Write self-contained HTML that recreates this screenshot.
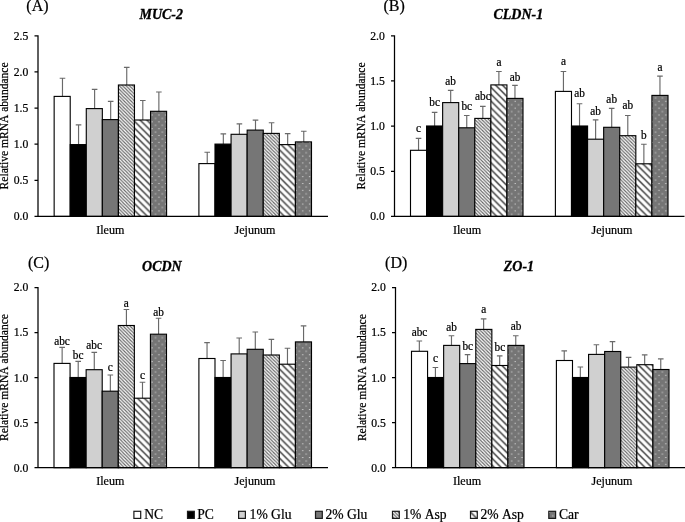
<!DOCTYPE html>
<html lang="en"><head><meta charset="utf-8"><title>Relative mRNA abundance</title>
<style>
html,body{margin:0;padding:0;background:#fff;}
body{width:685px;height:522px;overflow:hidden;}
svg{display:block;}
text{font-family:"Liberation Serif", serif;font-kerning:none;fill:#000;stroke:#000;stroke-width:0.22;}
.tk{font-size:11.7px;text-anchor:end;}
.lb{font-size:11.3px;text-anchor:middle;}
.ct{font-size:12.1px;text-anchor:middle;}
.yt{font-size:11.55px;text-anchor:middle;}
.tt{font-size:14px;font-weight:bold;font-style:italic;text-anchor:middle;stroke-width:0.3;}
.pn{font-size:16px;}
.lg{font-size:13.6px;}
.bar{stroke:#000;stroke-width:1.12;}
.err{stroke:#696969;stroke-width:1.15;fill:none;}
.ax{stroke:#000;stroke-width:1.25;fill:none;}
</style></head><body>
<svg width="685" height="522" viewBox="0 0 685 522" role="img" aria-label="Relative mRNA abundance of MUC-2, CLDN-1, OCDN and ZO-1 in ileum and jejunum">
<defs>
<pattern id="p1" width="3.425" height="3.425" patternUnits="userSpaceOnUse"><rect width="3.425" height="3.425" fill="#fff"/><path d="M-1,-0.16 L4.5,5.34 M1.5,-1.085 L5,2.415 M-1,3.265 L1,5.265" stroke="#666" stroke-width="1.15"/></pattern>
<pattern id="p2" width="6.85" height="6.85" patternUnits="userSpaceOnUse"><rect width="6.85" height="6.85" fill="#fff"/><path d="M-1,-0.45 L8,8.55 M5,-1.3 L9,2.7 M-2,5.4 L1,8.4" stroke="#5c5c5c" stroke-width="1.8"/></pattern>
<pattern id="p3" width="6.85" height="6.85" patternUnits="userSpaceOnUse"><rect width="6.85" height="6.85" fill="#757575"/><rect x="4.3" y="1.5" width="1" height="1" fill="#ededed"/><rect x="0.875" y="4.925" width="1" height="1" fill="#ededed"/></pattern>
</defs>
<rect width="685" height="522" fill="#fff"/>
<g id="chartA">
<path class="err" d="M62.48,96.4 V78.2 M59.68,78.2 H65.28"/>
<path class="err" d="M78.55,144.6 V124.8 M75.75,124.8 H81.35"/>
<path class="err" d="M94.61,108.6 V89.4 M91.81,89.4 H97.41"/>
<path class="err" d="M110.67,119.6 V101.4 M107.87,101.4 H113.47"/>
<path class="err" d="M126.74,85 V67.3 M123.94,67.3 H129.54"/>
<path class="err" d="M142.8,120 V100.5 M140,100.5 H145.6"/>
<path class="err" d="M158.87,111.3 V92 M156.07,92 H161.67"/>
<rect class="bar" x="54.15" y="96.4" width="16.06" height="120" fill="#ffffff"/>
<rect class="bar" x="70.21" y="144.6" width="16.06" height="71.8" fill="#000000"/>
<rect class="bar" x="86.28" y="108.6" width="16.06" height="107.8" fill="#d0d0d0"/>
<rect class="bar" x="102.34" y="119.6" width="16.06" height="96.8" fill="#767676"/>
<rect class="bar" x="118.41" y="85" width="16.06" height="131.4" fill="url(#p1)"/>
<rect class="bar" x="134.47" y="120" width="16.06" height="96.4" fill="url(#p2)"/>
<rect class="bar" x="150.54" y="111.3" width="16.06" height="105.1" fill="url(#p3)"/>
<path class="err" d="M207.24,163.6 V152.2 M204.44,152.2 H210.04"/>
<path class="err" d="M223.33,144.1 V133.8 M220.53,133.8 H226.13"/>
<path class="err" d="M239.41,134.3 V123.8 M236.61,123.8 H242.21"/>
<path class="err" d="M255.5,130.1 V120.1 M252.7,120.1 H258.3"/>
<path class="err" d="M271.59,133.4 V122.7 M268.79,122.7 H274.39"/>
<path class="err" d="M287.67,144.6 V133.6 M284.87,133.6 H290.47"/>
<path class="err" d="M303.76,141.9 V131.2 M300.96,131.2 H306.56"/>
<rect class="bar" x="198.9" y="163.6" width="16.09" height="52.8" fill="#ffffff"/>
<rect class="bar" x="214.99" y="144.1" width="16.09" height="72.3" fill="#000000"/>
<rect class="bar" x="231.07" y="134.3" width="16.09" height="82.1" fill="#d0d0d0"/>
<rect class="bar" x="247.16" y="130.1" width="16.09" height="86.3" fill="#767676"/>
<rect class="bar" x="263.24" y="133.4" width="16.09" height="83" fill="url(#p1)"/>
<rect class="bar" x="279.33" y="144.6" width="16.09" height="71.8" fill="url(#p2)"/>
<rect class="bar" x="295.41" y="141.9" width="16.09" height="74.5" fill="url(#p3)"/>
<path class="ax" d="M38,35.3 V216.4 M34.5,216.4 H328 M34.5,180.28 H38 M34.5,144.16 H38 M34.5,108.04 H38 M34.5,71.92 H38 M34.5,35.8 H38"/>
<text class="tk" transform="translate(28.3,220.15) scale(1,1.03)">0.0</text>
<text class="tk" transform="translate(28.3,184.03) scale(1,1.03)">0.5</text>
<text class="tk" transform="translate(28.3,147.91) scale(1,1.03)">1.0</text>
<text class="tk" transform="translate(28.3,111.79) scale(1,1.03)">1.5</text>
<text class="tk" transform="translate(28.3,75.67) scale(1,1.03)">2.0</text>
<text class="tk" transform="translate(28.3,39.55) scale(1,1.03)">2.5</text>
<text class="tt" transform="translate(161.2,18.9) scale(1,1.03)">MUC-2</text>
<text class="pn" transform="translate(26.3,10.9) scale(1,1.03)">(A)</text>
<text class="yt" transform="translate(7.8,125.9) rotate(-90) scale(1,1.03)">Relative mRNA abundance</text>
<text class="ct" transform="translate(110.3,234) scale(1,1.03)">Ileum</text>
<text class="ct" transform="translate(255,234) scale(1,1.03)">Jejunum</text>
</g>
<g id="chartB">
<path class="err" d="M418.54,150.3 V138.3 M415.74,138.3 H421.34"/>
<path class="err" d="M434.61,126 V112.4 M431.81,112.4 H437.41"/>
<path class="err" d="M450.68,102.6 V90.3 M447.88,90.3 H453.48"/>
<path class="err" d="M466.75,127.8 V115.5 M463.95,115.5 H469.55"/>
<path class="err" d="M482.82,118.4 V106.3 M480.02,106.3 H485.62"/>
<path class="err" d="M498.89,84.9 V71.5 M496.09,71.5 H501.69"/>
<path class="err" d="M514.96,98.4 V85.3 M512.16,85.3 H517.76"/>
<rect class="bar" x="410.5" y="150.3" width="16.07" height="66.1" fill="#ffffff"/>
<rect class="bar" x="426.57" y="126" width="16.07" height="90.4" fill="#000000"/>
<rect class="bar" x="442.64" y="102.6" width="16.07" height="113.8" fill="#d0d0d0"/>
<rect class="bar" x="458.71" y="127.8" width="16.07" height="88.6" fill="#767676"/>
<rect class="bar" x="474.79" y="118.4" width="16.07" height="98" fill="url(#p1)"/>
<rect class="bar" x="490.86" y="84.9" width="16.07" height="131.5" fill="url(#p2)"/>
<rect class="bar" x="506.93" y="98.4" width="16.07" height="118" fill="url(#p3)"/>
<text class="lb" transform="translate(418.54,132.1) scale(1,1.03)">c</text>
<text class="lb" transform="translate(434.61,106.3) scale(1,1.03)">bc</text>
<text class="lb" transform="translate(450.68,84.9) scale(1,1.03)">ab</text>
<text class="lb" transform="translate(466.75,109.6) scale(1,1.03)">bc</text>
<text class="lb" transform="translate(482.82,100.2) scale(1,1.03)">abc</text>
<text class="lb" transform="translate(498.89,65.8) scale(1,1.03)">a</text>
<text class="lb" transform="translate(514.96,80.7) scale(1,1.03)">ab</text>
<path class="err" d="M563.44,91.4 V71.5 M560.64,71.5 H566.24"/>
<path class="err" d="M579.53,126 V103.7 M576.73,103.7 H582.33"/>
<path class="err" d="M595.61,139.2 V119.9 M592.81,119.9 H598.41"/>
<path class="err" d="M611.7,127.3 V108.3 M608.9,108.3 H614.5"/>
<path class="err" d="M627.79,135.7 V115.5 M624.99,115.5 H630.59"/>
<path class="err" d="M643.87,163.8 V144.2 M641.07,144.2 H646.67"/>
<path class="err" d="M659.96,95.4 V76.1 M657.16,76.1 H662.76"/>
<rect class="bar" x="555.4" y="91.4" width="16.09" height="125" fill="#ffffff"/>
<rect class="bar" x="571.49" y="126" width="16.09" height="90.4" fill="#000000"/>
<rect class="bar" x="587.57" y="139.2" width="16.09" height="77.2" fill="#d0d0d0"/>
<rect class="bar" x="603.66" y="127.3" width="16.09" height="89.1" fill="#767676"/>
<rect class="bar" x="619.74" y="135.7" width="16.09" height="80.7" fill="url(#p1)"/>
<rect class="bar" x="635.83" y="163.8" width="16.09" height="52.6" fill="url(#p2)"/>
<rect class="bar" x="651.91" y="95.4" width="16.09" height="121" fill="url(#p3)"/>
<text class="lb" transform="translate(563.44,65.1) scale(1,1.03)">a</text>
<text class="lb" transform="translate(579.53,97.1) scale(1,1.03)">ab</text>
<text class="lb" transform="translate(595.61,114.6) scale(1,1.03)">ab</text>
<text class="lb" transform="translate(611.7,102.6) scale(1,1.03)">ab</text>
<text class="lb" transform="translate(627.79,109.2) scale(1,1.03)">ab</text>
<text class="lb" transform="translate(643.87,138.7) scale(1,1.03)">b</text>
<text class="lb" transform="translate(659.96,70.6) scale(1,1.03)">a</text>
<path class="ax" d="M394.5,35.3 V216.4 M391,216.4 H684.5 M391,171.25 H394.5 M391,126.1 H394.5 M391,80.95 H394.5 M391,35.8 H394.5"/>
<text class="tk" transform="translate(384.8,220.15) scale(1,1.03)">0.0</text>
<text class="tk" transform="translate(384.8,175) scale(1,1.03)">0.5</text>
<text class="tk" transform="translate(384.8,129.85) scale(1,1.03)">1.0</text>
<text class="tk" transform="translate(384.8,84.7) scale(1,1.03)">1.5</text>
<text class="tk" transform="translate(384.8,39.55) scale(1,1.03)">2.0</text>
<text class="tt" transform="translate(518.3,18.9) scale(1,1.03)">CLDN-1</text>
<text class="pn" transform="translate(383.5,10.9) scale(1,1.03)">(B)</text>
<text class="yt" transform="translate(364.5,125.9) rotate(-90) scale(1,1.03)">Relative mRNA abundance</text>
<text class="ct" transform="translate(467,234) scale(1,1.03)">Ileum</text>
<text class="ct" transform="translate(612,234) scale(1,1.03)">Jejunum</text>
</g>
<g id="chartC">
<path class="err" d="M62.14,363.4 V347.4 M59.34,347.4 H64.94"/>
<path class="err" d="M78.21,377.5 V361.4 M75.41,361.4 H81.01"/>
<path class="err" d="M94.28,369.7 V352.4 M91.48,352.4 H97.08"/>
<path class="err" d="M110.35,391.2 V375 M107.55,375 H113.15"/>
<path class="err" d="M126.42,325.5 V309.5 M123.62,309.5 H129.22"/>
<path class="err" d="M142.49,398.2 V382.2 M139.69,382.2 H145.29"/>
<path class="err" d="M158.56,334.2 V318.2 M155.76,318.2 H161.36"/>
<rect class="bar" x="54" y="363.4" width="16.07" height="104.3" fill="#ffffff"/>
<rect class="bar" x="70.07" y="377.5" width="16.07" height="90.2" fill="#000000"/>
<rect class="bar" x="86.14" y="369.7" width="16.07" height="98" fill="#d0d0d0"/>
<rect class="bar" x="102.21" y="391.2" width="16.07" height="76.5" fill="#767676"/>
<rect class="bar" x="118.29" y="325.5" width="16.07" height="142.2" fill="url(#p1)"/>
<rect class="bar" x="134.36" y="398.2" width="16.07" height="69.5" fill="url(#p2)"/>
<rect class="bar" x="150.43" y="334.2" width="16.07" height="133.5" fill="url(#p3)"/>
<text class="lb" transform="translate(62.04,344.6) scale(1,1.03)">abc</text>
<text class="lb" transform="translate(78.11,358.6) scale(1,1.03)">bc</text>
<text class="lb" transform="translate(94.18,349.4) scale(1,1.03)">abc</text>
<text class="lb" transform="translate(110.25,371.3) scale(1,1.03)">c</text>
<text class="lb" transform="translate(126.32,307.2) scale(1,1.03)">a</text>
<text class="lb" transform="translate(142.39,378.5) scale(1,1.03)">c</text>
<text class="lb" transform="translate(158.46,315.7) scale(1,1.03)">ab</text>
<path class="err" d="M207.04,358.5 V342.6 M204.24,342.6 H209.84"/>
<path class="err" d="M223.13,377.5 V360.5 M220.33,360.5 H225.93"/>
<path class="err" d="M239.21,353.9 V338 M236.41,338 H242.01"/>
<path class="err" d="M255.3,349.3 V332 M252.5,332 H258.1"/>
<path class="err" d="M271.39,355 V339.3 M268.59,339.3 H274.19"/>
<path class="err" d="M287.47,364.2 V348.2 M284.67,348.2 H290.27"/>
<path class="err" d="M303.56,341.9 V325.9 M300.76,325.9 H306.36"/>
<rect class="bar" x="198.9" y="358.5" width="16.09" height="109.2" fill="#ffffff"/>
<rect class="bar" x="214.99" y="377.5" width="16.09" height="90.2" fill="#000000"/>
<rect class="bar" x="231.07" y="353.9" width="16.09" height="113.8" fill="#d0d0d0"/>
<rect class="bar" x="247.16" y="349.3" width="16.09" height="118.4" fill="#767676"/>
<rect class="bar" x="263.24" y="355" width="16.09" height="112.7" fill="url(#p1)"/>
<rect class="bar" x="279.33" y="364.2" width="16.09" height="103.5" fill="url(#p2)"/>
<rect class="bar" x="295.41" y="341.9" width="16.09" height="125.8" fill="url(#p3)"/>
<path class="ax" d="M38,287 V467.7 M34.5,467.7 H328 M34.5,422.65 H38 M34.5,377.6 H38 M34.5,332.55 H38 M34.5,287.5 H38"/>
<text class="tk" transform="translate(28.3,471.6) scale(1,1.03)">0.0</text>
<text class="tk" transform="translate(28.3,426.55) scale(1,1.03)">0.5</text>
<text class="tk" transform="translate(28.3,381.5) scale(1,1.03)">1.0</text>
<text class="tk" transform="translate(28.3,336.45) scale(1,1.03)">1.5</text>
<text class="tk" transform="translate(28.3,291.4) scale(1,1.03)">2.0</text>
<text class="tt" transform="translate(161.9,270.9) scale(1,1.03)">OCDN</text>
<text class="pn" transform="translate(28,268.4) scale(1,1.03)">(C)</text>
<text class="yt" transform="translate(7.8,377.55) rotate(-90) scale(1,1.03)">Relative mRNA abundance</text>
<text class="ct" transform="translate(110.3,485) scale(1,1.03)">Ileum</text>
<text class="ct" transform="translate(255,485) scale(1,1.03)">Jejunum</text>
</g>
<g id="chartD">
<path class="err" d="M419.34,351.3 V341 M416.54,341 H422.14"/>
<path class="err" d="M435.41,377.5 V367.5 M432.61,367.5 H438.21"/>
<path class="err" d="M451.48,345.4 V335.7 M448.68,335.7 H454.28"/>
<path class="err" d="M467.55,363.6 V354.6 M464.75,354.6 H470.35"/>
<path class="err" d="M483.62,329.4 V318.9 M480.82,318.9 H486.42"/>
<path class="err" d="M499.69,365.5 V355.9 M496.89,355.9 H502.49"/>
<path class="err" d="M515.76,345.4 V335.7 M512.96,335.7 H518.56"/>
<rect class="bar" x="411.5" y="351.3" width="16.07" height="116.4" fill="#ffffff"/>
<rect class="bar" x="427.57" y="377.5" width="16.07" height="90.2" fill="#000000"/>
<rect class="bar" x="443.64" y="345.4" width="16.07" height="122.3" fill="#d0d0d0"/>
<rect class="bar" x="459.71" y="363.6" width="16.07" height="104.1" fill="#767676"/>
<rect class="bar" x="475.79" y="329.4" width="16.07" height="138.3" fill="url(#p1)"/>
<rect class="bar" x="491.86" y="365.5" width="16.07" height="102.2" fill="url(#p2)"/>
<rect class="bar" x="507.93" y="345.4" width="16.07" height="122.3" fill="url(#p3)"/>
<text class="lb" transform="translate(419.54,335.8) scale(1,1.03)">abc</text>
<text class="lb" transform="translate(435.61,361.9) scale(1,1.03)">c</text>
<text class="lb" transform="translate(451.68,331) scale(1,1.03)">ab</text>
<text class="lb" transform="translate(467.75,349.9) scale(1,1.03)">bc</text>
<text class="lb" transform="translate(483.82,312.9) scale(1,1.03)">a</text>
<text class="lb" transform="translate(499.89,351) scale(1,1.03)">bc</text>
<text class="lb" transform="translate(515.96,329.7) scale(1,1.03)">ab</text>
<path class="err" d="M564.24,360.5 V350.8 M561.44,350.8 H567.04"/>
<path class="err" d="M580.33,377.5 V367 M577.53,367 H583.13"/>
<path class="err" d="M596.41,354.4 V344.7 M593.61,344.7 H599.21"/>
<path class="err" d="M612.5,351.5 V341.6 M609.7,341.6 H615.3"/>
<path class="err" d="M628.59,367.1 V357.4 M625.79,357.4 H631.39"/>
<path class="err" d="M644.67,364.7 V354.8 M641.87,354.8 H647.47"/>
<path class="err" d="M660.76,369.5 V358.9 M657.96,358.9 H663.56"/>
<rect class="bar" x="556.4" y="360.5" width="16.09" height="107.2" fill="#ffffff"/>
<rect class="bar" x="572.49" y="377.5" width="16.09" height="90.2" fill="#000000"/>
<rect class="bar" x="588.57" y="354.4" width="16.09" height="113.3" fill="#d0d0d0"/>
<rect class="bar" x="604.66" y="351.5" width="16.09" height="116.2" fill="#767676"/>
<rect class="bar" x="620.74" y="367.1" width="16.09" height="100.6" fill="url(#p1)"/>
<rect class="bar" x="636.83" y="364.7" width="16.09" height="103" fill="url(#p2)"/>
<rect class="bar" x="652.91" y="369.5" width="16.09" height="98.2" fill="url(#p3)"/>
<path class="ax" d="M395.5,287 V467.7 M392,467.7 H685.5 M392,422.65 H395.5 M392,377.6 H395.5 M392,332.55 H395.5 M392,287.5 H395.5"/>
<text class="tk" transform="translate(385.8,471.6) scale(1,1.03)">0.0</text>
<text class="tk" transform="translate(385.8,426.55) scale(1,1.03)">0.5</text>
<text class="tk" transform="translate(385.8,381.5) scale(1,1.03)">1.0</text>
<text class="tk" transform="translate(385.8,336.45) scale(1,1.03)">1.5</text>
<text class="tk" transform="translate(385.8,291.4) scale(1,1.03)">2.0</text>
<text class="tt" transform="translate(518.9,270.9) scale(1,1.03)">ZO-1</text>
<text class="pn" transform="translate(385.1,268.1) scale(1,1.03)">(D)</text>
<text class="yt" transform="translate(365.5,377.6) rotate(-90) scale(1,1.03)">Relative mRNA abundance</text>
<text class="ct" transform="translate(467,485) scale(1,1.03)">Ileum</text>
<text class="ct" transform="translate(612,485) scale(1,1.03)">Jejunum</text>
</g>
<g id="legend">
<rect x="133.9" y="511.3" width="6.8" height="7.1" fill="#ffffff" stroke="#1a1a1a" stroke-width="1.2"/>
<text class="lg" transform="translate(144.2,518.8) scale(1,1.03)">NC</text>
<rect x="187.5" y="511.3" width="6.8" height="7.1" fill="#000000" stroke="#1a1a1a" stroke-width="1.2"/>
<text class="lg" transform="translate(197.3,518.8) scale(1,1.03)">PC</text>
<rect x="238.6" y="511.3" width="6.8" height="7.1" fill="#d0d0d0" stroke="#1a1a1a" stroke-width="1.2"/>
<text class="lg" transform="translate(249.6,518.8) scale(1,1.03)">1% Glu</text>
<rect x="315.5" y="511.3" width="6.8" height="7.1" fill="#767676" stroke="#1a1a1a" stroke-width="1.2"/>
<text class="lg" transform="translate(325.4,518.8) scale(1,1.03)">2% Glu</text>
<rect x="392.5" y="511.3" width="6.8" height="7.1" fill="url(#p1)" stroke="#1a1a1a" stroke-width="1.2"/>
<text class="lg" transform="translate(403.2,518.8) scale(1,1.03)">1% Asp</text>
<rect x="470.5" y="511.3" width="6.8" height="7.1" fill="url(#p2)" stroke="#1a1a1a" stroke-width="1.2"/>
<text class="lg" transform="translate(480.5,518.8) scale(1,1.03)">2% Asp</text>
<rect x="548.8" y="511.3" width="6.8" height="7.1" fill="url(#p3)" stroke="#1a1a1a" stroke-width="1.2"/>
<text class="lg" transform="translate(558.9,518.8) scale(1,1.03)">Car</text>
</g>
</svg>
</body></html>
